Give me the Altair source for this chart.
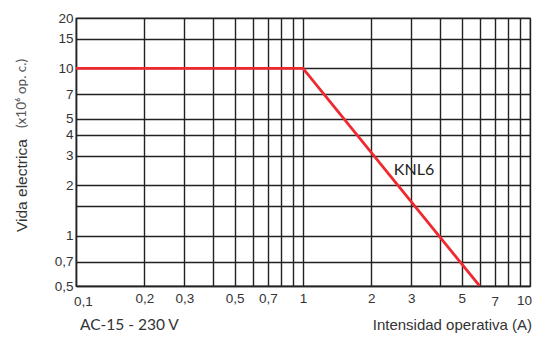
import altair as alt
import pandas as pd

# Data
line_x = [0.1, 1.0, 6.0]
line_y = [10, 10, 0.5]

x_grid = [0.1, 0.2, 0.3, 0.4, 0.5, 0.6, 0.7, 0.8, 0.9, 1, 2, 3, 4, 5, 6, 7, 8, 9, 10]
x_labeled = [0.1, 0.2, 0.3, 0.5, 0.7, 1, 2, 3, 5, 7]
x_end_label = "10"
y_grid = [0.5, 0.7, 1, 1.5, 2, 3, 4, 5, 7, 10, 15, 20]
y_labeled = [0.5, 0.7, 1, 2, 3, 4, 5, 7, 10, 15, 20]

series_label = "KNL6"
note_text = "AC-15 - 230 V"
x_title = "Intensidad operativa (A)"
y_title_a = "Vida electrica"
y_title_b = "(x10\u2076 op. c.)"

df = pd.DataFrame({"x": line_x, "y": line_y})

W, H = 454, 268
GOTHIC = "Lato"

def label_expr(labeled):
    cond = " || ".join(f"datum.value == {v}" for v in labeled)
    return f"({cond}) ? replace(format(datum.value, '~g'), '.', ',') : ''"

x_scale = alt.Scale(type="log", domain=[0.1, 10], nice=False)
y_scale = alt.Scale(type="log", domain=[0.5, 20], nice=False)

x_axis = alt.Axis(values=x_grid, labelExpr=label_expr(x_labeled), title=None,
                  grid=True, gridColor="#222", gridWidth=1.4, gridOpacity=1,
                  ticks=False, domain=True, domainColor="#222", domainWidth=1.4,
                  labelFont="Liberation Sans", labelFontSize=13.5, labelColor="#333",
                  labelPadding={"condition": {"test": "datum.value == 0.1 || datum.value >= 7", "value": 8}, "value": 5},
                  labelOffset={"condition": {"test": "datum.value == 0.1", "value": 7},
                               "value": 0},
                  labelFlush=False, labelOverlap=False)
y_axis = alt.Axis(values=y_grid, labelExpr=label_expr(y_labeled), title=None,
                  grid=True, gridColor="#222", gridWidth=1.4, gridOpacity=1,
                  ticks=False, domain=True, domainColor="#222", domainWidth=1.4,
                  labelFont="Liberation Sans", labelFontSize=13.5, labelColor="#333",
                  labelPadding=3, labelFlush=False, labelOverlap=False)

line = alt.Chart(df).mark_line(color="#ee2a2f", strokeWidth=2.8, clip=True).encode(
    x=alt.X("x:Q", scale=x_scale, axis=x_axis),
    y=alt.Y("y:Q", scale=y_scale, axis=y_axis),
)

def txt(s, x, y, font, size, color, align="left", angle=0, baseline="middle"):
    return alt.Chart(pd.DataFrame({"t": [s]})).mark_text(
        font=font, fontSize=size, color=color, align=align, baseline=baseline, angle=angle
    ).encode(x=alt.value(x), y=alt.value(y), text="t:N")

texts = [
    txt(x_end_label, 456, H + 15, "Liberation Sans", 13.5, "#333", align="right"),
    txt(series_label, 338, 152, GOTHIC, 16, "#222", align="center"),
    txt(note_text, 4, 307, GOTHIC, 15.5, "#333"),
    txt(x_title, 456, 307, "Liberation Sans", 15, "#333", align="right"),
    txt(y_title_a, -54, 214, "Liberation Sans", 15.5, "#333", angle=270),
    txt(y_title_b, -54, 110, GOTHIC, 13.5, "#555", angle=270),
]

chart = alt.layer(line, *texts).properties(
    width=W, height=H,
    autosize=alt.AutoSizeParams(type="none"),
    padding={"left": 68, "top": 10, "right": 4, "bottom": 47},
).configure_view(stroke="#666", strokeWidth=1.3)

chart.save("out.html", embed_options={"renderer": "svg", "actions": False})
